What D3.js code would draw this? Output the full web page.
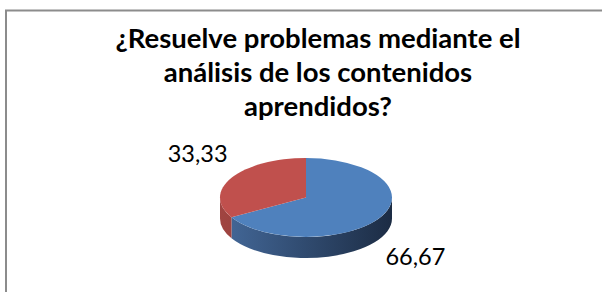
<!DOCTYPE html>
<html lang="es">
<head>
  <meta charset="UTF-8">
  <title>¿Resuelve problemas mediante el análisis de los contenidos aprendidos?</title>
  <script src="https://d3js.org/d3.v7.min.js"></script>
  <style>
    html, body { margin: 0; padding: 0; background: #fff; }
    svg { display: block; }
  </style>
</head>
<body>
  <div id="chart"></div>
  <script>
    // datos del gráfico
    const categorias = ["Sí", "No"];
    const valores = [66.67, 33.33];
    const etiquetas = ["66,67", "33,33"];
    const titulo = ["¿Resuelve problemas mediante el", "análisis de los contenidos", "aprendidos?"];

    const width = 602, height = 292;
    const svg = d3.select("#chart").append("svg")
      .attr("width", width).attr("height", height);

    // marco (solo se ven arriba e izquierda)
    svg.append("rect")
      .attr("x", 6).attr("y", 10.5)
      .attr("width", 640).attr("height", 320)
      .attr("fill", "#fff").attr("stroke", "#8c8c8c").attr("stroke-width", 2);

    // título
    svg.append("text")
      .attr("text-anchor", "middle")
      .attr("font-family", "Lato, 'Open Sans', sans-serif")
      .attr("font-weight", "bold")
      .attr("font-size", 27.5)
      .attr("fill", "#000")
      .selectAll("tspan")
      .data(titulo)
      .enter()
      .append("tspan")
      .attr("x", 318)
      .attr("y", (d, i) => 48 + i * 34)
      .text(d => d);

    // pastel 3D
    const cx = 306, cy = 197.5, rx = 86, ry = 39.5, depth = 21;
    const colores = ["#4f81bd", "#c0504d"];
    const oscuros = [["#44699a", "#1c2c44"], ["#a04441", "#7a3230"]];

    const pie = d3.pie().sort(null).value(d => d)
      .startAngle(0).endAngle(2 * Math.PI);
    const arcs = pie(valores);

    const pt = (a, dy = 0) => [cx + rx * Math.sin(a), cy - ry * Math.cos(a) + dy];

    const defs = svg.append("defs");
    oscuros.forEach((c, i) => {
      const g = defs.append("linearGradient")
        .attr("id", "lado" + i)
        .attr("gradientUnits", "userSpaceOnUse")
        .attr("x1", cx - rx).attr("x2", cx + rx).attr("y1", 0).attr("y2", 0);
      g.append("stop").attr("offset", "0%").attr("stop-color", c[0]);
      g.append("stop").attr("offset", "100%").attr("stop-color", c[1]);
    });

    // lados (solo la mitad frontal)
    const lado = (s, e) => {
      const p0 = pt(s), p1 = pt(e), p2 = pt(e, depth), p3 = pt(s, depth);
      return `M${p0}A${rx},${ry} 0 0 1 ${p1}L${p2}A${rx},${ry} 0 0 0 ${p3}Z`;
    };
    svg.selectAll(".lado")
      .data(arcs)
      .enter()
      .filter(d => d.endAngle > Math.PI / 2 && d.startAngle < 3 * Math.PI / 2)
      .append("path")
      .attr("class", "lado")
      .attr("d", d => lado(Math.max(d.startAngle, Math.PI / 2), Math.min(d.endAngle, 3 * Math.PI / 2)))
      .attr("fill", d => "url(#lado" + d.index + ")");

    // caras superiores
    const cara = d => {
      const p0 = pt(d.startAngle), p1 = pt(d.endAngle);
      const large = d.endAngle - d.startAngle > Math.PI ? 1 : 0;
      return `M${cx},${cy}L${p0}A${rx},${ry} 0 ${large} 1 ${p1}Z`;
    };
    svg.selectAll(".cara")
      .data(arcs)
      .enter()
      .append("path")
      .attr("class", "cara")
      .attr("d", cara)
      .attr("fill", d => colores[d.index]);

    // etiquetas de datos
    svg.selectAll(".etq")
      .data(arcs)
      .enter()
      .append("text")
      .attr("class", "etq")
      .attr("font-family", "Lato, 'Open Sans', sans-serif")
      .attr("font-size", 23.5)
      .attr("fill", "#000")
      .attr("text-anchor", d => Math.sin((d.startAngle + d.endAngle) / 2) < 0 ? "end" : "start")
      .attr("x", d => {
        const m = (d.startAngle + d.endAngle) / 2;
        return pt(m)[0] + (Math.sin(m) < 0 ? -4 : 5);
      })
      .attr("y", d => {
        const m = (d.startAngle + d.endAngle) / 2;
        return Math.cos(m) > 0 ? pt(m)[1] - 16 : pt(m, depth)[1] + 27;
      })
      .text(d => etiquetas[d.index]);
  </script>
</body>
</html>
